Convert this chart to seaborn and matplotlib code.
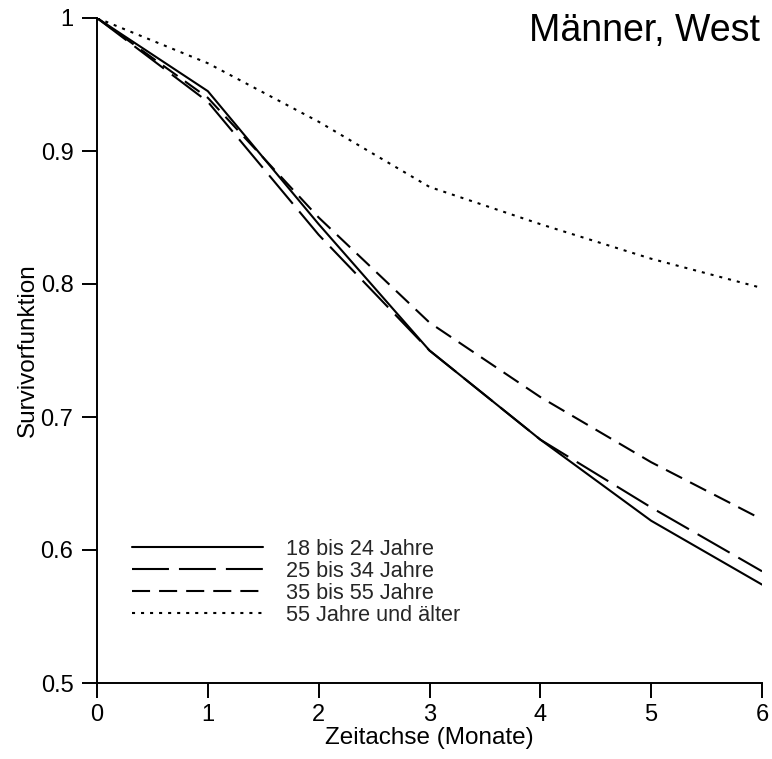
import matplotlib
matplotlib.use("Agg")
import matplotlib.pyplot as plt
import seaborn as sns
import pandas as pd

months = [0, 1, 2, 3, 4, 5, 6]
s_18_24 = [1.0, 0.945, 0.845, 0.750, 0.683, 0.622, 0.574]
s_25_34 = [1.0, 0.937, 0.837, 0.750, 0.683, 0.632, 0.584]
s_35_55 = [1.0, 0.940, 0.850, 0.771, 0.715, 0.666, 0.623]
s_55_up = [1.0, 0.966, 0.922, 0.873, 0.845, 0.819, 0.797]
labels = ["18 bis 24 Jahre", "25 bis 34 Jahre", "35 bis 55 Jahre", "55 Jahre und älter"]

rows = []
for lab, vals in zip(labels, [s_18_24, s_25_34, s_35_55, s_55_up]):
    for m, v in zip(months, vals):
        rows.append({"Monat": m, "Wert": v, "Gruppe": lab})
df = pd.DataFrame(rows)

sns.set_theme(style="ticks")
plt.rcParams["font.family"] = ["Liberation Sans", "DejaVu Sans"]
plt.rcParams["lines.scale_dashes"] = False

fig = plt.figure(figsize=(7.72, 7.59), dpi=100)
ax = fig.add_axes([97/772, 1-683/759, (762-97)/772, (683-18)/759])

dashes = ["", (26.6, 7.2), (13, 6.5), (2.2, 4.3)]
sns.lineplot(data=df, x="Monat", y="Wert", style="Gruppe", style_order=labels,
             dashes=dashes, color="black", linewidth=1.5, ax=ax, legend=True)

ax.set_xlim(0, 6)
ax.set_ylim(0.5, 1.0)
ax.set_xticks(months)
ax.set_xticklabels([str(m) for m in months])
yt = [0.5, 0.6, 0.7, 0.8, 0.9, 1.0]
ax.set_yticks(yt)
ax.set_yticklabels(["0.5", "0.6", "0.7", "0.8", "0.9", "1"])
ax.tick_params(axis="both", labelsize=17, length=11, width=1.4,
               color="black", labelcolor="black")
ax.tick_params(axis="y", pad=6)
ax.tick_params(axis="x", pad=4)
for s in ["top", "right"]:
    ax.spines[s].set_visible(False)
for s in ["left", "bottom"]:
    ax.spines[s].set_linewidth(1.4)
    ax.spines[s].set_color("black")
ax.set_xlabel("Zeitachse (Monate)", fontsize=17.5, labelpad=1, color="black")
ax.set_ylabel("Survivorfunktion", fontsize=17.5, labelpad=1, color="black")

leg = ax.legend(loc="upper left", bbox_to_anchor=(0.053, 0.217), frameon=False,
                fontsize=15.6, handlelength=6.05, handletextpad=1.05, labelspacing=0.05,
                borderpad=0, borderaxespad=0)

fig.text(760/772, 1-31/759, "Männer, West", ha="right", va="center", fontsize=27, color="black")

fig.savefig("out.png", dpi=100)
